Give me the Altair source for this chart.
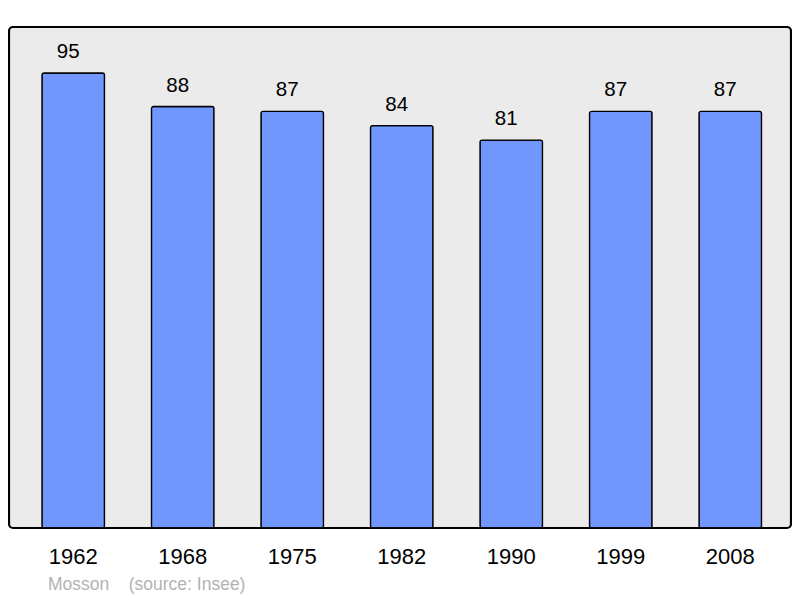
import altair as alt
import pandas as pd

years = ["1962", "1968", "1975", "1982", "1990", "1999", "2008"]
population = [95, 88, 87, 84, 81, 87, 87]
footer_text = ["Mosson\u00a0\u00a0\u00a0\u00a0(source: Insee)"]

df = pd.DataFrame({"year": years, "pop": population})

x = alt.X("year:N", sort=years, title=None,
          scale=alt.Scale(paddingInner=0.429, paddingOuter=0.285, align=0.528),
          axis=alt.Axis(labelAngle=0, labelFontSize=22, labelColor="black",
                        labelFont="Liberation Sans", labelPadding=18,
                        ticks=False, domain=False, labelBaseline="top"))
y = alt.Y("pop:Q", title=None, scale=alt.Scale(domain=[0, 104.6], nice=False),
          axis=None)

bars = alt.Chart(df).mark_bar(fill="#7197ff", stroke="black", strokeWidth=1.3,
                              cornerRadius=2).encode(x=x, y=y)
labels = alt.Chart(df).mark_text(dy=-15, dx=-5, fontSize=20.5, font="Liberation Sans",
                                 color="black", baseline="alphabetic").encode(
    x=x, y=y, text="pop:Q")
footer = alt.Chart(pd.DataFrame({"t": footer_text})).mark_text(
    align="left", baseline="alphabetic", fontSize=17.5, font="Liberation Sans",
    color="#b3b3b3").encode(x=alt.value(39), y=alt.value(563), text="t:N")

chart = alt.layer(bars, labels, footer).properties(
    width=782, height=501,
    autosize=alt.AutoSizeParams(type="none"),
    padding={"left": 1, "top": 19, "right": 1, "bottom": 70},
).configure_view(fill="#ebebeb", stroke="black", strokeWidth=2.2, cornerRadius=4)

chart.save("out.html", embed_options={"renderer": "svg", "actions": False})
